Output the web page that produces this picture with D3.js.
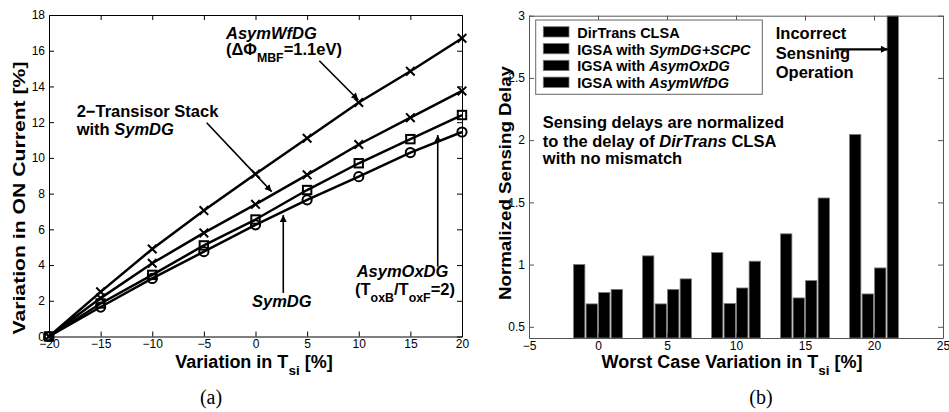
<!DOCTYPE html>
<html>
<head>
<meta charset="utf-8">
<script src="https://cdn.jsdelivr.net/npm/d3@7"></script>
<style>
  body { margin: 0; background: #fff; }
  svg { display: block; font-family: "Liberation Sans", Arial, Helvetica, sans-serif; }
  .tick text { font-size: 12px; fill: #000; }
</style>
</head>
<body>
<svg id="chart" width="949" height="412"></svg>
<script>
// ---- panel (a) data ----
const tsiVariation = [-20, -15, -10, -5, 0, 5, 10, 15, 20];
const asymWfDG   = [0, 2.5, 4.9, 7.05, 9.1, 11.1, 13.1, 14.85, 16.7];
const stackSymDG = [0, 2.15, 4.1, 5.8, 7.4, 9.05, 10.75, 12.25, 13.75];
const asymOxDG   = [0, 1.85, 3.45, 5.1, 6.55, 8.2, 9.7, 11.05, 12.4];
const symDG      = [0, 1.65, 3.25, 4.75, 6.25, 7.65, 8.95, 10.3, 11.45];
const xTicksA = [-20, -15, -10, -5, 0, 5, 10, 15, 20];
const yTicksA = [0, 2, 4, 6, 8, 10, 12, 14, 16, 18];

// ---- panel (b) data ----
const worstCase = [0, 5, 10, 15, 20];
const barSeries = ["DirTrans CLSA", "IGSA with SymDG+SCPC", "IGSA with AsymOxDG", "IGSA with AsymWfDG"];
const dirTransCLSA = [1.0, 1.07, 1.096, 1.247, 2.045];
const igsaSymDG    = [0.684, 0.684, 0.687, 0.732, 0.764];
const igsaAsymOx   = [0.775, 0.80, 0.812, 0.871, 0.973];
const igsaAsymWf   = [0.80, 0.885, 1.027, 1.535, 3.3];
const xTicksB = [-5, 0, 5, 10, 15, 20, 25];
const yTicksB = [0.5, 1, 1.5, 2, 2.5, 3];

const svg = d3.select("#chart");
const defs = svg.append("defs");
defs.append("marker")
    .attr("id", "arrow")
    .attr("viewBox", "0 0 10 10")
    .attr("refX", 10).attr("refY", 5)
    .attr("markerWidth", 9).attr("markerHeight", 7)
    .attr("markerUnits", "userSpaceOnUse")
    .attr("orient", "auto")
  .append("path")
    .attr("d", "M0,0L10,5L0,10z")
    .attr("fill", "#000");

// helper: text made of parts {t, it, sub}
function richText(g, x, y, parts, size, anchor) {
  const t = g.append("text")
      .attr("x", x).attr("y", y)
      .attr("font-size", size)
      .attr("font-weight", "bold")
      .attr("text-anchor", anchor || "start");
  let shifted = 0;
  parts.forEach(p => {
    const s = t.append("tspan").text(p.t);
    if (p.it) s.attr("font-style", "italic");
    const want = p.sub ? size * 0.4 : 0;
    if (want !== shifted) { s.attr("dy", want - shifted); shifted = want; }
    if (p.sub) s.attr("font-size", size * 0.75);
  });
  return t;
}

function boxAxes(g, x, y, xt, yt, color) {
  const [x0, x1] = x.range();
  const [y0, y1] = y.range();
  const fmt = d => String(d).replace("-", "−");
  g.append("g").attr("transform", `translate(0,${y0})`)
    .call(d3.axisBottom(x).tickValues(xt).tickFormat(fmt).tickSizeInner(-5).tickSizeOuter(0).tickPadding(3));
  g.append("g").attr("transform", `translate(0,${y1})`)
    .call(d3.axisTop(x).tickValues(xt).tickSizeInner(-5).tickSizeOuter(0).tickFormat(""));
  g.append("g").attr("transform", `translate(${x0},0)`)
    .call(d3.axisLeft(y).tickValues(yt).tickFormat(fmt).tickSizeInner(-5).tickSizeOuter(0).tickPadding(4));
  g.append("g").attr("transform", `translate(${x1},0)`)
    .call(d3.axisRight(y).tickValues(yt).tickSizeInner(-5).tickSizeOuter(0).tickFormat(""));
  g.selectAll(".domain, .tick line").attr("stroke", color);
}

// ================= panel (a) =================
const xA = d3.scaleLinear().domain([-20, 20]).range([49, 462]);
const yA = d3.scaleLinear().domain([0, 18]).range([336.5, 15]);
const gA = svg.append("g");
boxAxes(gA, xA, yA, xTicksA, yTicksA, "#000");

const lineA = d3.line().x((d, i) => xA(tsiVariation[i])).y(d => yA(d));
const seriesA = [
  { v: asymWfDG, m: "x" },
  { v: stackSymDG, m: "x" },
  { v: asymOxDG, m: "s" },
  { v: symDG, m: "o" }
];
seriesA.forEach(s => {
  gA.append("path").attr("d", lineA(s.v))
    .attr("fill", "none").attr("stroke", "#000").attr("stroke-width", 2.5);
  const mk = gA.append("g").selectAll("g").data(s.v).join("g")
    .attr("transform", (d, i) => `translate(${xA(tsiVariation[i])},${yA(d)})`)
    .attr("fill", "none").attr("stroke", "#000").attr("stroke-width", 2);
  if (s.m === "x") mk.append("path").attr("d", "M-4.3,-4.3L4.3,4.3M-4.3,4.3L4.3,-4.3");
  if (s.m === "s") mk.append("rect").attr("x", -4.2).attr("y", -4.2).attr("width", 8.4).attr("height", 8.4);
  if (s.m === "o") mk.append("circle").attr("r", 4.6);
});

// annotations (a)
const arrowsA = [
  [6.18, 15.44, 9.96, 13.24],
  [-4.73, 11.97, 1.57, 8.11],
  [2.69, 2.44, 2.69, 6.8],
  [17.65, 3.91, 17.65, 11.28]
];
gA.selectAll(".arr").data(arrowsA).join("line")
  .attr("x1", d => xA(d[0])).attr("y1", d => yA(d[1]))
  .attr("x2", d => xA(d[2])).attr("y2", d => yA(d[3]))
  .attr("stroke", "#000").attr("stroke-width", 1.6)
  .attr("marker-end", "url(#arrow)");

richText(gA, xA(-2.86), yA(16.64), [{ t: "AsymWfDG", it: true }], 16.5);
richText(gA, xA(-2.86), yA(15.76), [{ t: "(ΔΦ" }, { t: "MBF", sub: true }, { t: "=1.1eV)" }], 16.5);
richText(gA, xA(-17.32), yA(12.31), [{ t: "2−Transisor Stack" }], 16.5);
richText(gA, xA(-17.32), yA(11.28), [{ t: "with " }, { t: "SymDG", it: true }], 16.5);
richText(gA, xA(-0.34), yA(1.67), [{ t: "SymDG", it: true }], 16.5);
richText(gA, xA(9.8), yA(3.35), [{ t: "AsymOxDG", it: true }], 16.5);
richText(gA, xA(9.64), yA(2.32), [{ t: "(T" }, { t: "oxB", sub: true }, { t: "/T" }, { t: "oxF", sub: true }, { t: "=2)" }], 16.5);

richText(gA, 254, 368, [{ t: "Variation in T" }, { t: "si", sub: true }, { t: " [%]" }], 18, "middle");
gA.append("text")
  .attr("transform", "translate(25,198) rotate(-90)")
  .attr("text-anchor", "middle")
  .attr("font-size", 17).attr("font-weight", "bold")
  .attr("textLength", 273).attr("lengthAdjust", "spacingAndGlyphs")
  .text("Variation in ON Current [%]");
gA.append("text").attr("x", 211).attr("y", 404)
  .attr("text-anchor", "middle").attr("font-size", 20)
  .attr("font-family", "'Liberation Serif', 'Times New Roman', serif")
  .text("(a)");

// ================= panel (b) =================
const xB = d3.scaleLinear().domain([-5, 25]).range([529, 943]);
const yB = d3.scaleLinear().domain([0.41, 3]).range([338, 15.7]);
const gB = svg.append("g");

defs.append("clipPath").attr("id", "clipB")
  .append("rect")
  .attr("x", xB.range()[0]).attr("y", yB.range()[1])
  .attr("width", xB.range()[1] - xB.range()[0])
  .attr("height", yB.range()[0] - yB.range()[1]);

const sub = d3.scaleBand().domain(barSeries).range([-24.4, 24.4]).paddingInner(0.1);
const barValues = [dirTransCLSA, igsaSymDG, igsaAsymOx, igsaAsymWf];
const barData = [];
barValues.forEach((vals, si) => vals.forEach((v, gi) =>
  barData.push({ s: barSeries[si], x: worstCase[gi], v })));

gB.append("g").attr("clip-path", "url(#clipB)")
  .selectAll("rect").data(barData).join("rect")
  .attr("x", d => xB(d.x) + sub(d.s))
  .attr("width", sub.bandwidth())
  .attr("y", d => yB(d.v))
  .attr("height", d => yB(0.41) - yB(d.v))
  .attr("fill", "#000")
  .attr("stroke", "#777").attr("stroke-width", 0.8);

boxAxes(gB, xB, yB, xTicksB, yTicksB, "#555");

// legend
const leg = gB.append("g").attr("transform", `translate(${xB(-5) + 6.7},${yB(3) + 4.3})`);
leg.append("rect").attr("width", 226.6).attr("height", 74.3)
  .attr("fill", "#fff").attr("stroke", "#666").attr("stroke-width", 1);
barSeries.forEach((name, i) => {
  const row = leg.append("g").attr("transform", `translate(0,${17.7 + i * 16.8})`);
  row.append("rect").attr("x", 7.6).attr("y", -11).attr("width", 25.7).attr("height", 10.3)
    .attr("fill", "#000").attr("stroke", "#777").attr("stroke-width", 0.8);
  const m = name.match(/^(IGSA with )(.*)$/);
  const parts = m ? [{ t: m[1] }, { t: m[2], it: true }] : [{ t: name }];
  richText(row, 41.6, 0, parts, 14.5);
});

// annotations (b)
richText(gB, xB(12.88), 39, [{ t: "Incorrect" }], 16.5);
richText(gB, xB(12.88), 58.5, [{ t: "Sensning" }], 16.5);
richText(gB, xB(12.88), 77.5, [{ t: "Operation" }], 16.5);
gB.append("line")
  .attr("x1", xB(17.17)).attr("y1", yB(2.73))
  .attr("x2", xB(21.01)).attr("y2", yB(2.73))
  .attr("stroke", "#000").attr("stroke-width", 2.2)
  .attr("marker-end", "url(#arrow)");

richText(gB, xB(-4.0), 128, [{ t: "Sensing delays are normalized" }], 16.5);
richText(gB, xB(-4.0), 146.7, [{ t: "to the delay of " }, { t: "DirTrans", it: true }, { t: " CLSA" }], 16.5);
richText(gB, xB(-4.0), 164.3, [{ t: "with no mismatch" }], 16.5);

richText(gB, 732, 368, [{ t: "Worst Case Variation in T" }, { t: "si", sub: true }, { t: " [%]" }], 18, "middle");
gB.append("text")
  .attr("transform", "translate(511,183) rotate(-90)")
  .attr("text-anchor", "middle")
  .attr("font-size", 17).attr("font-weight", "bold")
  .attr("textLength", 234).attr("lengthAdjust", "spacingAndGlyphs")
  .text("Normalized Sensing Delay");
gB.append("text").attr("x", 761).attr("y", 404)
  .attr("text-anchor", "middle").attr("font-size", 20)
  .attr("font-family", "'Liberation Serif', 'Times New Roman', serif")
  .text("(b)");
</script>
</body>
</html>
